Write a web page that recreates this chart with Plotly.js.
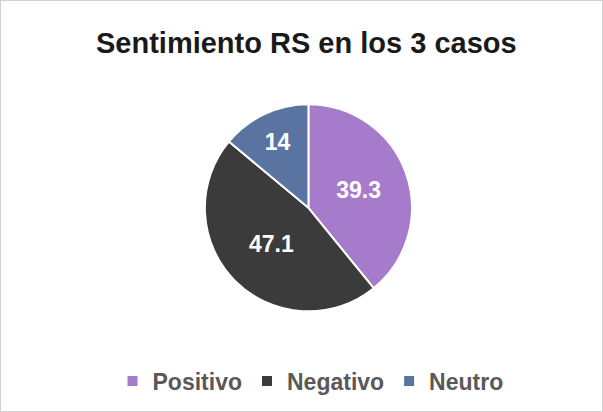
<!DOCTYPE html>
<html>
<head>
<meta charset="utf-8">
<script src="https://cdn.plot.ly/plotly-3.0.1.min.js"></script>
<style>
html,body{margin:0;padding:0;background:#fff;}
#chart{width:601px;height:410px;border:1px solid #d0d0d0;}
</style>
</head>
<body>
<div id="chart"></div>
<script>
var categories = ["Positivo", "Negativo", "Neutro"];
var values = [39.3, 47.1, 14];
var colors = ["#A77BCB", "#3B3B3B", "#5A74A1"];

var data = [{
  type: "pie",
  labels: categories,
  values: values,
  text: values.map(String),
  textinfo: "text",
  textposition: "inside",
  insidetextfont: {family: "Liberation Sans, Arial, sans-serif", size: 23, color: "#ffffff", weight: "bold"},
  sort: false,
  direction: "clockwise",
  rotation: 0,
  marker: {colors: colors, line: {color: "#ffffff", width: 2}},
  domain: {x: [0.335, 0.688], y: [0.243, 0.748]},
  hoverinfo: "none"
}];

var layout = {
  width: 601,
  height: 410,
  margin: {l: 0, r: 0, t: 0, b: 0},
  paper_bgcolor: "#ffffff",
  title: {
    text: "<b>Sentimiento RS en los 3 casos</b>",
    font: {family: "Liberation Sans, Arial, sans-serif", size: 29, color: "#1a1a1a"},
    x: 0.508, xanchor: "center",
    y: 0.897, yanchor: "middle"
  },
  showlegend: true,
  legend: {
    orientation: "h",
    x: 0.515, xanchor: "center",
    y: 0.073, yanchor: "middle",
    font: {family: "Liberation Sans, Arial, sans-serif", size: 23, color: "#595959", weight: "bold"},
    itemwidth: 30,
    traceorder: "normal"
  }
};

Plotly.newPlot("chart", data, layout, {displayModeBar: false, staticPlot: true});
</script>
</body>
</html>
